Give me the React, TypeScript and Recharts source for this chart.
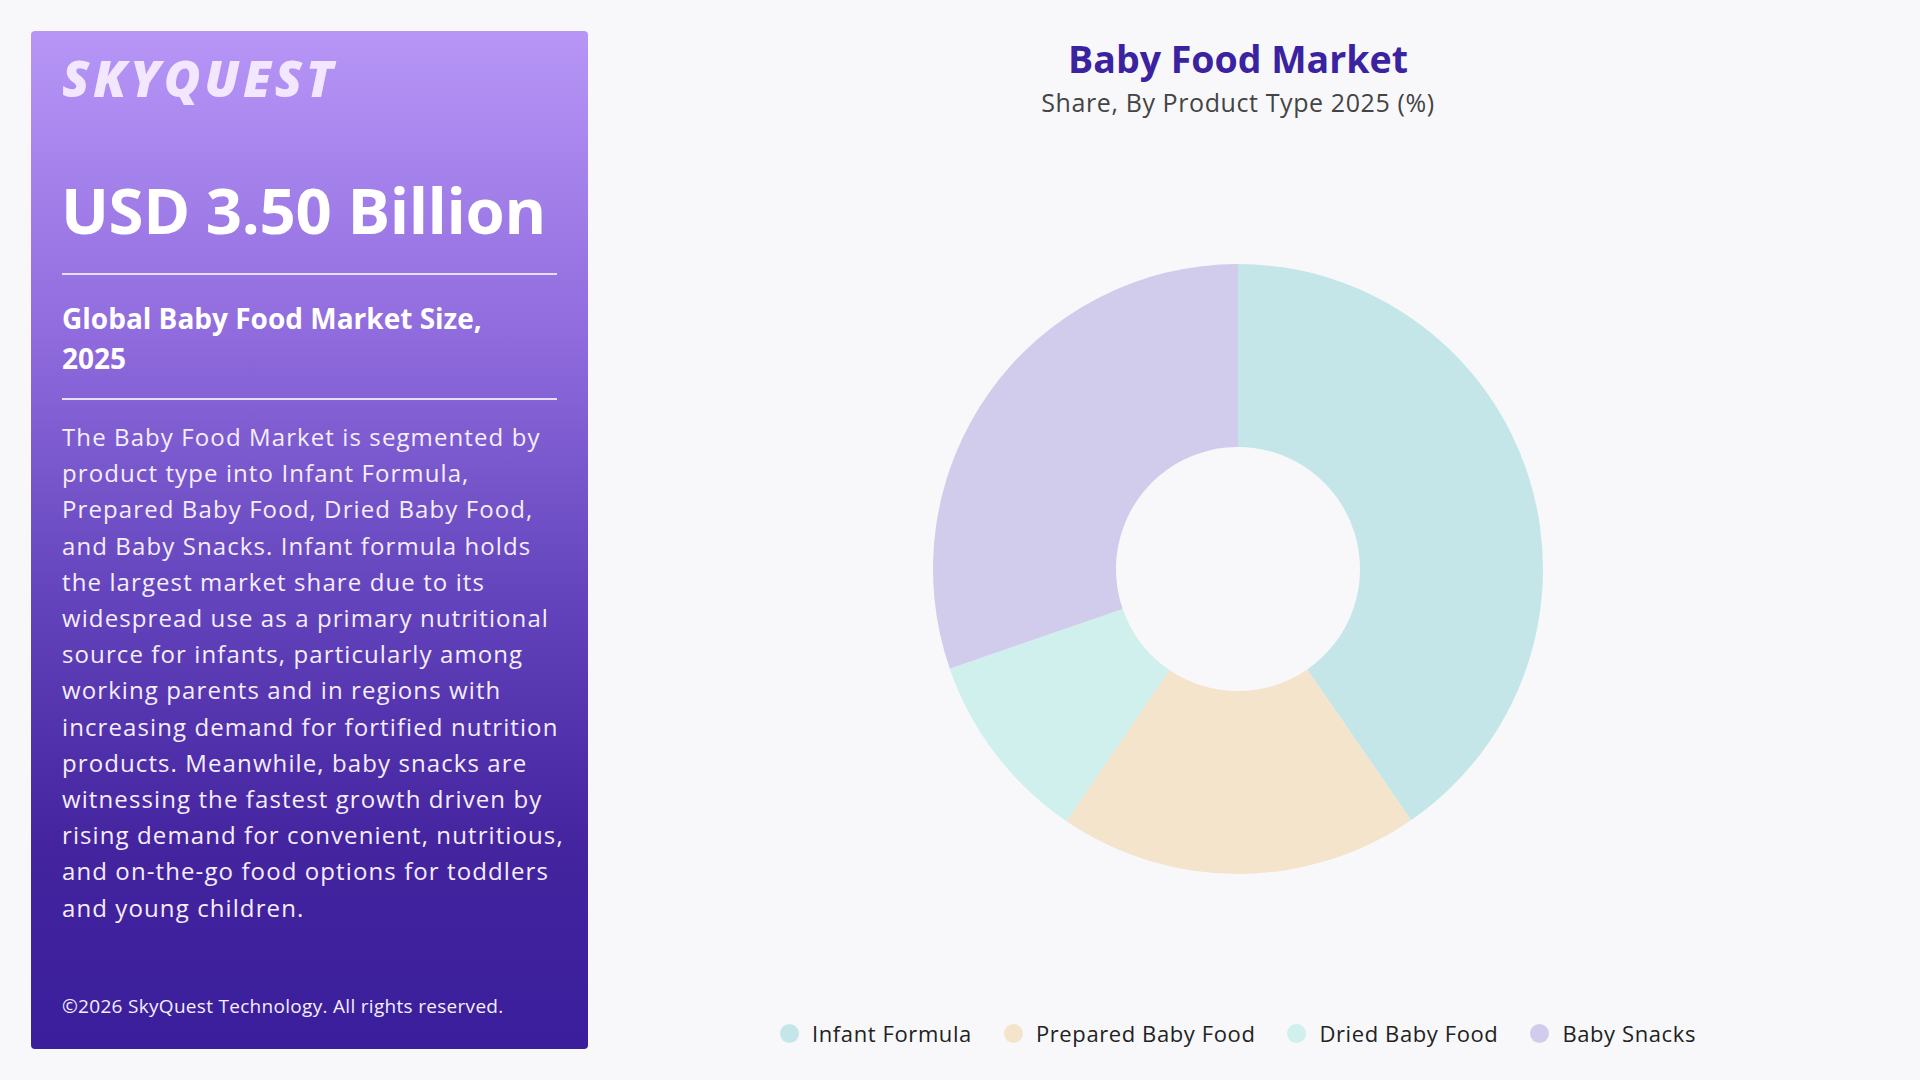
import React from 'react'
import { PieChart, Pie, Cell, Legend } from 'recharts'

const segments = ['Infant Formula', 'Prepared Baby Food', 'Dried Baby Food', 'Baby Snacks']
const shares = [40.4, 19.1, 10.2, 30.3]
const colors = ['#C4E6E8', '#F5E4CC', '#CFF0EC', '#D1CCEB']

const chartTitle = 'Baby Food Market'
const chartSubtitle = 'Share, By Product Type 2025 (%)'
const marketValue = 'USD 3.50 Billion'
const marketLabel = ['Global Baby Food Market Size,', '2025']
const descriptionLines = [
  'The Baby Food Market is segmented by',
  'product type into Infant Formula,',
  'Prepared Baby Food, Dried Baby Food,',
  'and Baby Snacks. Infant formula holds',
  'the largest market share due to its',
  'widespread use as a primary nutritional',
  'source for infants, particularly among',
  'working parents and in regions with',
  'increasing demand for fortified nutrition',
  'products. Meanwhile, baby snacks are',
  'witnessing the fastest growth driven by',
  'rising demand for convenient, nutritious,',
  'and on-the-go food options for toddlers',
  'and young children.',
]
const copyright = '©2026 SkyQuest Technology. All rights reserved.'

const data = segments.map((name, i) => ({ name, value: shares[i] }))

const font = "'Open Sans', sans-serif"

function LegendRow({ payload }: any) {
  const items = [...(payload ?? [])].sort((a: any, b: any) => segments.indexOf(a.value) - segments.indexOf(b.value))
  return (
    <div style={{ display: 'flex', justifyContent: 'center', gap: 32, fontFamily: font }}>
      {items.map((p: any) => (
        <div key={p.value} style={{ display: 'flex', alignItems: 'center', gap: 13 }}>
          <span style={{ width: 19, height: 19, borderRadius: '50%', background: p.color, display: 'inline-block' }} />
          <span style={{ fontSize: 22, letterSpacing: 0.6, color: '#222' }}>{p.value}</span>
        </div>
      ))}
    </div>
  )
}

export default function App() {
  return (
    <div style={{ position: 'absolute', left: 0, top: 0, width: 1920, height: 1080, background: '#F8F8FA', fontFamily: font, overflow: 'hidden' }}>
      <div
        style={{
          position: 'absolute', left: 31, top: 31, width: 557, height: 1018, borderRadius: 4,
          background: 'linear-gradient(180deg, #B796F7 0%, #8F6BDD 30%, #6445BD 55%, #44249F 80%, #3A1E9B 100%)',
          color: '#FFFFFF',
        }}
      >
        <div style={{ position: 'absolute', left: 31, top: 13, fontSize: 50, fontWeight: 800, fontStyle: 'italic', color: '#F3E6FF', letterSpacing: 3.6 }}>
          SKYQUEST
        </div>
        <div style={{ position: 'absolute', left: 30, top: 135, fontSize: 63.5, fontWeight: 700, letterSpacing: -0.4, whiteSpace: 'nowrap' }}>
          {marketValue}
        </div>
        <div style={{ position: 'absolute', left: 31, top: 242, width: 495, height: 2, background: '#E8DDFB' }} />
        <div style={{ position: 'absolute', left: 31, top: 267, fontSize: 28, fontWeight: 700, lineHeight: '40px', whiteSpace: 'nowrap' }}>
          {marketLabel.map((l) => (
            <div key={l}>{l}</div>
          ))}
        </div>
        <div style={{ position: 'absolute', left: 31, top: 367, width: 495, height: 2, background: '#E8DDFB' }} />
        <div style={{ position: 'absolute', left: 31, top: 388, fontSize: 24, letterSpacing: 1.1, lineHeight: '36.2px', color: '#F5EEFF', whiteSpace: 'nowrap' }}>
          {descriptionLines.map((l) => (
            <div key={l}>{l}</div>
          ))}
        </div>
        <div style={{ position: 'absolute', left: 31, top: 962, fontSize: 19, letterSpacing: 0.3, color: '#F5EEFF' }}>
          {copyright}
        </div>
      </div>

      <div style={{ position: 'absolute', left: 588, top: 0, width: 1300, textAlign: 'center' }}>
        <div style={{ position: 'absolute', left: 0, top: 33, width: 1300, fontSize: 37.5, fontWeight: 700, color: '#3A22A0' }}>{chartTitle}</div>
        <div style={{ position: 'absolute', left: 0, top: 85, width: 1300, fontSize: 25, letterSpacing: 0.6, color: '#444' }}>{chartSubtitle}</div>
      </div>

      <div style={{ position: 'absolute', left: 588, top: 0 }}>
        <PieChart width={1300} height={1080} margin={{ top: 0, right: 0, bottom: 0, left: 0 }}>
          <Pie
            data={data}
            dataKey="value"
            nameKey="name"
            cx={650}
            cy={569}
            innerRadius={122}
            outerRadius={305}
            startAngle={90}
            endAngle={-270}
            stroke="none"
            isAnimationActive={false}
          >
            {data.map((d, i) => (
              <Cell key={d.name} fill={colors[i]} />
            ))}
          </Pie>
          <Legend content={<LegendRow />} wrapperStyle={{ left: 0, top: 1018, width: 1300 }} />
        </PieChart>
      </div>
    </div>
  )
}
